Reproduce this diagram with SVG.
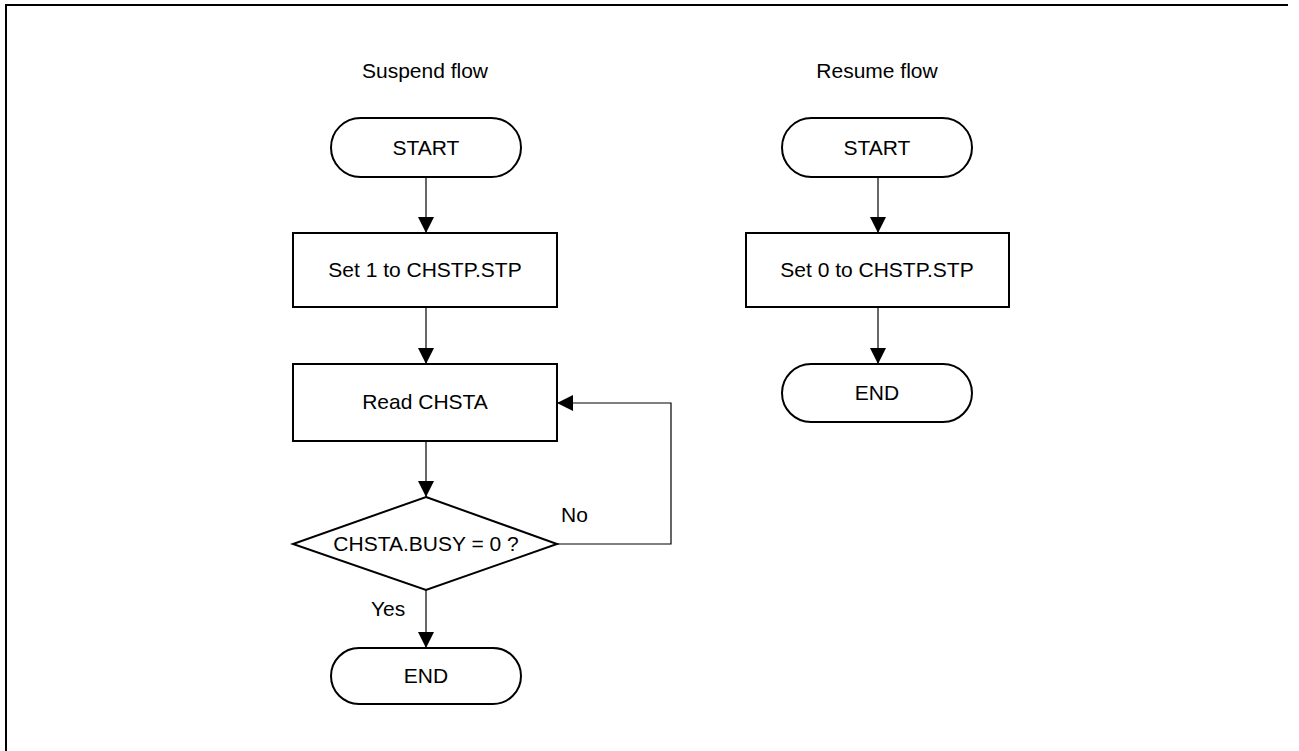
<svg xmlns="http://www.w3.org/2000/svg" width="1299" height="751" viewBox="0 0 1299 751">
<style>
.shape{fill:#fff;stroke:#000;stroke-width:2}
.conn{fill:none;stroke:#000;stroke-width:1.2}
.t{font-family:"Liberation Sans",Arial,sans-serif;font-size:21px;fill:#000;text-anchor:middle}
.lbl{font-family:"Liberation Sans",Arial,sans-serif;font-size:21px;fill:#000}
</style>
<defs>
<marker id="arr" markerUnits="userSpaceOnUse" markerWidth="16" markerHeight="16" viewBox="0 0 15 15" refX="15" refY="7.5" orient="auto">
<path d="M0,0 L15,7.5 L0,15 Z" fill="#000"/>
</marker>
</defs>
<rect width="1299" height="751" fill="#fff"/>
<g id="frame">
<line x1="5" y1="5" x2="1288" y2="5" stroke="#000" stroke-width="2"/>
<line x1="6" y1="4" x2="6" y2="751" stroke="#000" stroke-width="2"/>
</g>
<g id="titles">
<text class="t" x="425" y="78">Suspend flow</text>
<text class="t" x="877" y="78">Resume flow</text>
</g>
<g id="connectors">
<line class="conn" x1="426" y1="177" x2="426" y2="233" marker-end="url(#arr)"/>
<line class="conn" x1="426" y1="307" x2="426" y2="364" marker-end="url(#arr)"/>
<line class="conn" x1="426" y1="441" x2="426" y2="497" marker-end="url(#arr)"/>
<polyline class="conn" points="557,544 671,544 671,403 557,403" marker-end="url(#arr)"/>
<line class="conn" x1="426" y1="590" x2="426" y2="648" marker-end="url(#arr)"/>
<line class="conn" x1="878" y1="177" x2="878" y2="233" marker-end="url(#arr)"/>
<line class="conn" x1="878" y1="307" x2="878" y2="364" marker-end="url(#arr)"/>
<text class="lbl" x="561" y="522">No</text>
<text class="lbl" x="371" y="616">Yes</text>
</g>
<g id="s_start">
<rect class="shape" x="331" y="118" width="190" height="59" rx="29.5"/>
<text class="t" x="426" y="155">START</text>
</g>
<g id="s_set1">
<rect class="shape" x="293" y="233" width="264" height="74"/>
<text class="t" x="425" y="277">Set 1 to CHSTP.STP</text>
</g>
<g id="s_read">
<rect class="shape" x="293" y="364" width="264" height="77"/>
<text class="t" x="425" y="409">Read CHSTA</text>
</g>
<g id="s_busy">
<polygon class="shape" points="426,497 557,544 426,590 293,544"/>
<text class="t" x="426" y="551">CHSTA.BUSY = 0 ?</text>
</g>
<g id="s_end">
<rect class="shape" x="331" y="648" width="190" height="56" rx="28"/>
<text class="t" x="426" y="683">END</text>
</g>
<g id="r_start">
<rect class="shape" x="782" y="118" width="190" height="59" rx="29.5"/>
<text class="t" x="877" y="155">START</text>
</g>
<g id="r_set0">
<rect class="shape" x="746" y="233" width="263" height="74"/>
<text class="t" x="877" y="277">Set 0 to CHSTP.STP</text>
</g>
<g id="r_end">
<rect class="shape" x="782" y="364" width="190" height="58" rx="29"/>
<text class="t" x="877" y="400">END</text>
</g>
</svg>
